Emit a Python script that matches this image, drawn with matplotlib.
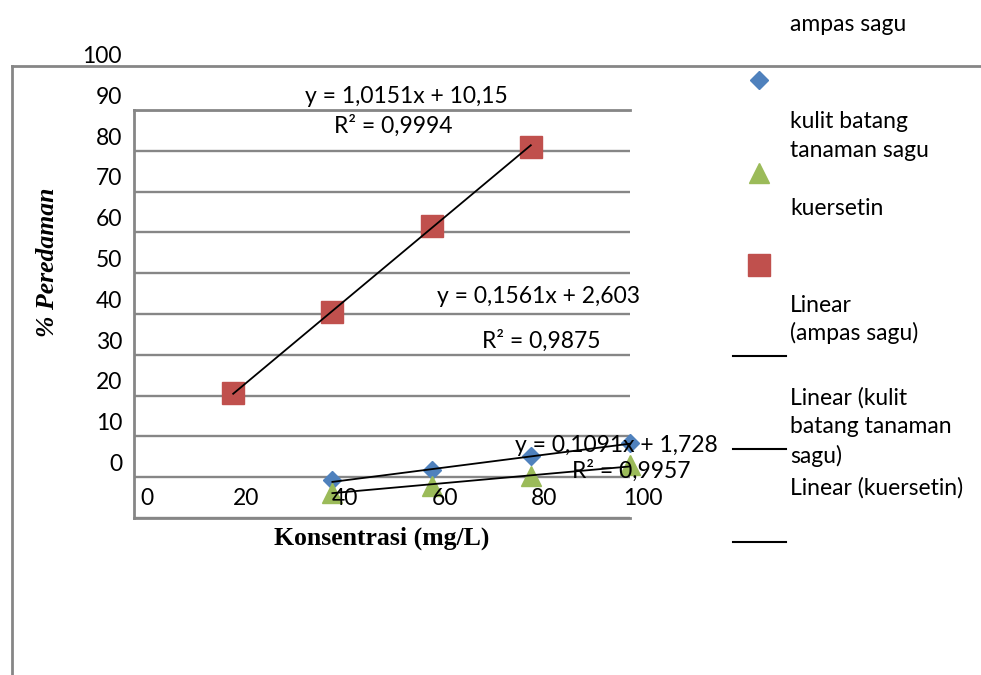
import matplotlib
matplotlib.use("Agg")
import matplotlib.pyplot as plt
from matplotlib.lines import Line2D
from matplotlib.transforms import ScaledTranslation, blended_transform_factory

# ---------------- data ----------------
x_ampas = [20, 40, 60, 80]
y_ampas = [30.6, 50.4, 71.6, 90.9]
x_kulit = [40, 60, 80, 100]
y_kulit = [9.2, 11.8, 15.2, 18.3]
x_kuer = [40, 60, 80, 100]
y_kuer = [6.2, 7.9, 10.4, 12.9]

fit_ampas = (1.0151, 10.15)
fit_kulit = (0.1561, 2.603)
fit_kuer = (0.1091, 1.728)

y_ticks = [0, 10, 20, 30, 40, 50, 60, 70, 80, 90, 100]
x_ticks = [0, 20, 40, 60, 80, 100]

eq_texts = ["y = 1,0151x + 10,15", "R² = 0,9994",
            "y = 0,1561x + 2,603", "R² = 0,9875",
            "y = 0,1091x + 1,728", "R² = 0,9957"]
legend_texts = ["ampas sagu", "kulit batang", "tanaman sagu", "kuersetin",
                "Linear", "(ampas sagu)", "Linear (kulit", "batang tanaman",
                "sagu)", "Linear (kuersetin)"]

# ---------------- style ----------------
RED = "#C0504D"
BLUE = "#4F81BD"
GREEN = "#9BBB59"
GRAY = "#868686"
SANS = ["Lato", "DejaVu Sans"]
SERIF = ["Liberation Serif", "DejaVu Serif"]
FS = 16.5
MS_D, MS_T, MS_S = 9.3, 14, 16.5

W, H = 981, 675
fig = plt.figure(figsize=(W / 100, H / 100), dpi=100)
fig.patch.set_facecolor("white")


def fx(px):
    return px / W


def fy(py):
    return 1 - py / H


ax = fig.add_axes([fx(134), fy(518), fx(630) - fx(134), fy(110) - fy(518)])
ax.set_xlim(0, 100)
ax.set_ylim(0, 100)
ax.set_yticks(y_ticks)
ax.set_xticks(x_ticks)
ax.tick_params(length=0, labelleft=False, labelbottom=False)
ax.grid(axis="y", color=GRAY, lw=1.7)
ax.grid(axis="x", visible=False)
ax.set_axisbelow(True)
for s in ["left", "bottom", "top"]:
    ax.spines[s].set_color(GRAY)
    ax.spines[s].set_linewidth(2.0)
ax.spines["right"].set_visible(False)

# markers
ax.plot(x_kulit, y_kulit, ls="none", marker="D", ms=MS_D, color=BLUE, zorder=3, clip_on=False)
ax.plot(x_kuer, y_kuer, ls="none", marker="^", ms=MS_T, color=GREEN, zorder=3, clip_on=False)
ax.plot(x_ampas, y_ampas, ls="none", marker="s", ms=MS_S, color=RED, zorder=3, clip_on=False)

# trendlines
for xs, (m, b) in [(x_ampas, fit_ampas), (x_kulit, fit_kulit), (x_kuer, fit_kuer)]:
    x0, x1 = xs[0], xs[-1]
    ax.plot([x0, x1], [m * x0 + b, m * x1 + b], color="black", lw=1.3, zorder=4, clip_on=False)

# displaced tick labels (as in the source render)
ytr = blended_transform_factory(ax.transAxes, ax.transData) + \
    ScaledTranslation(-12 / 100, 47 / 100, fig.dpi_scale_trans)
for v in y_ticks:
    ax.text(0, v, f"{v}", transform=ytr, ha="right", va="baseline",
            fontsize=FS, family=SANS, color="black")
xtr = blended_transform_factory(ax.transData, ax.transAxes) + \
    ScaledTranslation(13 / 100, 13 / 100, fig.dpi_scale_trans)
for v in x_ticks:
    ax.text(v, 0, f"{v}", transform=xtr, ha="center", va="baseline",
            fontsize=FS, family=SANS, color="black")

# axis titles
fig.text(fx(382), fy(545), "Konsentrasi (mg/L)", ha="center", va="baseline",
         fontsize=18.5, family=SERIF, fontweight="bold")
fig.text(fx(48), fy(262), "% Peredaman", ha="center", va="center", rotation=90,
         fontsize=18.5, family=SERIF, fontweight="bold", fontstyle="italic")

# equations
eq_pos = [(305, 103), (334, 133), (437, 303), (482, 348), (515, 452), (572, 478)]
for t, (px, py) in zip(eq_texts, eq_pos):
    fig.text(fx(px), fy(py), t, ha="left", va="baseline", fontsize=FS, family=SANS)

# outer frame
fig.add_artist(Line2D([fx(12), 1.0], [fy(66), fy(66)], color=GRAY, lw=2.0,
                      transform=fig.transFigure))
fig.add_artist(Line2D([fx(12), fx(12)], [fy(66), 0.0], color=GRAY, lw=2.0,
                      transform=fig.transFigure))

# legend (displaced layout of the source render)
leg_pos = [31, 128, 157, 215, 312, 340, 405, 433, 463, 495]
for t, py in zip(legend_texts, leg_pos):
    fig.text(fx(790), fy(py), t, ha="left", va="baseline", fontsize=FS, family=SANS)

fig.add_artist(Line2D([fx(759)], [fy(80)], ls="none", marker="D", ms=MS_D, color=BLUE,
                      transform=fig.transFigure))
fig.add_artist(Line2D([fx(759)], [fy(173)], ls="none", marker="^", ms=MS_T, color=GREEN,
                      transform=fig.transFigure))
fig.add_artist(Line2D([fx(759)], [fy(265)], ls="none", marker="s", ms=MS_S, color=RED,
                      transform=fig.transFigure))
for py in [356, 449, 542]:
    fig.add_artist(Line2D([fx(733), fx(786)], [fy(py), fy(py)], color="black", lw=1.5,
                          transform=fig.transFigure))

fig.savefig("out.png", dpi=100, facecolor="white")
